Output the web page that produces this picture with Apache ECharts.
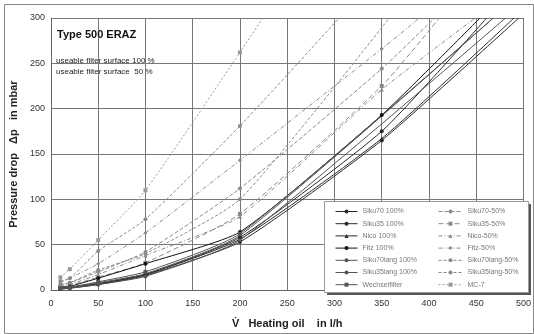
<!DOCTYPE html>
<html><head><meta charset="utf-8">
<script src="https://cdn.jsdelivr.net/npm/echarts@6/dist/echarts.min.js"></script>
<style>html,body{margin:0;padding:0;background:#fff}#c{width:534px;height:334px}</style>
</head><body><div id="c"></div>
<script>
// flow rates (l/h) where points were measured
const flow = [10, 20, 50, 100, 200, 350];
const xTicks = [0, 50, 100, 150, 200, 250, 300, 350, 400, 450, 500];
const yTicks = [0, 50, 100, 150, 200, 250, 300];
// pressure drop (mbar) per series; null = no point
const siku70_100   = [2, 3, 7, 17, 58, 175];
const siku70_50    = [6, 8, 20, 42, 112, 244];
const siku35_100   = [1, 2, 6, 16, 53, 165];
const siku35_50    = [3, 5, 14, 30, 84, 225];
const nico_100     = [2, 3, 7, 17, 56, 167];
const nico_50      = [4, 6, 17, 38, 81, 221];
const fitz_100     = [3, 4, 13, 29, 64, 193];
const fitz_50      = [8, 13, 29, 63, 143, 266];
const siku70l_100  = [2, 3, 8, 18, 60, null];
const siku70l_50   = [10, 13, 43, 78, 181, null];
const siku35l_100  = [1, 2, 6, 15, 55, null];
const siku35l_50   = [5, 8, 22, 40, 100, null];
const wechsel      = [2, 3, 9, 20, 62, null];
const mc7          = [14, 23, 55, 110, 262, null];
// flow where each curve leaves the top of the chart (300 mbar)
const exitFlow = {
  s70_100: 461, s70_50: 406, s35_100: 495, s35_50: 411, nico_100: 490, nico_50: 449,
  fitz_100: 454, fitz_50: 390, s70l_100: 468, s70l_50: 305, s35l_100: 481, s35l_50: 358,
  wechsel: 468, mc7: 224
};
const names = ['Siku70 100%','Siku70-50%','Siku35 100%','Siku35-50%','Nico 100%','Nico-50%',
  'Fitz 100%','Fitz-50%','Siku70lang 100%','Siku70lang-50%','Siku35lang 100%','Siku35lang-50%',
  'Wechselfilter','MC-7'];

const dark = '#2a2a2a', mid = '#555', light = '#8a8a8a';
const defs = [
  [names[0], siku70_100, exitFlow.s70_100, dark, 'solid', 'circle'],
  [names[1], siku70_50, exitFlow.s70_50, light, 'dashed', 'circle'],
  [names[2], siku35_100, exitFlow.s35_100, dark, 'solid', 'circle'],
  [names[3], siku35_50, exitFlow.s35_50, light, [5,3], 'rect'],
  [names[4], nico_100, exitFlow.nico_100, dark, 'solid', 'triangle'],
  [names[5], nico_50, exitFlow.nico_50, light, [4,2,1,2], 'triangle'],
  [names[6], fitz_100, exitFlow.fitz_100, '#111', 'solid', 'circle'],
  [names[7], fitz_50, exitFlow.fitz_50, light, [4,2,1,2], 'diamond'],
  [names[8], siku70l_100, exitFlow.s70l_100, mid, 'solid', 'none'],
  [names[9], siku70l_50, exitFlow.s70l_50, light, [3,2], 'circle'],
  [names[10], siku35l_100, exitFlow.s35l_100, mid, 'solid', 'circle'],
  [names[11], siku35l_50, exitFlow.s35l_50, light, [3,2], 'circle'],
  [names[12], wechsel, exitFlow.wechsel, mid, 'solid', 'rect'],
  [names[13], mc7, exitFlow.mc7, '#9a9a9a', [2,2], 'rect']
];

const series = defs.map(([name, vals, ex, color, type, sym]) => {
  const data = [];
  flow.forEach((f, i) => { if (vals[i] != null) data.push([f, vals[i]]); });
  data.push({ value: [ex, 300], symbol: 'none' });
  return {
    name, type: 'line', data, smooth: 0.18, clip: true,
    symbol: sym, symbolSize: 4,
    lineStyle: { color, width: 1, type },
    itemStyle: { color },
    z: 3
  };
});

const legendCommon = {
  orient: 'vertical', itemHeight: 5, itemGap: 5.2, itemSymbolSize: 4,
  lineStyle: { width: 1 },
  textStyle: { fontSize: 7, color: '#777', fontFamily: 'Liberation Sans' },
  z: 10
};

const chart = echarts.init(document.getElementById('c'));
chart.setOption({
  animation: false,
  backgroundColor: '#fff',
  grid: { left: 46, right: 4, top: 18, bottom: 38 },
  xAxis: {
    type: 'value', min: 0, max: 500, interval: 50,
    name: 'V\u0307   Heating oil    in l/h', nameLocation: 'middle', nameGap: 28,
    nameTextStyle: { fontSize: 11, fontWeight: 'bold', color: '#222', fontFamily: 'Liberation Sans' },
    axisLine: { show: true, lineStyle: { color: '#666' } },
    axisTick: { show: false },
    axisLabel: { fontSize: 9, color: '#333', fontFamily: 'Liberation Sans', margin: 9 },
    splitLine: { lineStyle: { color: '#777', width: 1 } }
  },
  yAxis: {
    type: 'value', min: 0, max: 300, interval: 50,
    name: 'Pressure drop   \u0394p   in mbar', nameLocation: 'middle', nameGap: 31,
    nameTextStyle: { fontSize: 11, fontWeight: 'bold', color: '#222', fontFamily: 'Liberation Sans' },
    axisLine: { show: true, lineStyle: { color: '#666' } },
    axisTick: { show: false },
    axisLabel: { fontSize: 9, color: '#333', fontFamily: 'Liberation Sans', margin: 6 },
    splitLine: { lineStyle: { color: '#777', width: 1 } }
  },
  legend: [
    Object.assign({ left: 330, top: 203, itemWidth: 22, data: [names[0],names[2],names[4],names[6],names[8],names[10],names[12]] }, legendCommon),
    Object.assign({ left: 433, top: 203, itemWidth: 24, data: [names[1],names[3],names[5],names[7],names[9],names[11],names[13]] }, legendCommon)
  ],
  graphic: [
    { type: 'rect', left: 2, top: 2, shape: { width: 529, height: 329 }, style: { fill: 'none', stroke: '#888', lineWidth: 1 }, z: 0, silent: true },
    { type: 'rect', left: 327, top: 204, shape: { width: 204, height: 91 }, style: { fill: '#555' }, z: 5, silent: true },
    { type: 'rect', left: 324, top: 201, shape: { width: 204, height: 91 }, style: { fill: '#fff', stroke: '#999', lineWidth: 1 }, z: 6, silent: true },
    { type: 'text', left: 57, top: 29, style: { text: 'Type 500 ERAZ', font: 'bold 11px "Liberation Sans"', fill: '#111' }, z: 6 },
    { type: 'text', left: 56, top: 57, style: { text: 'useable filter surface 100 %', font: '8px "Liberation Sans"', fill: '#222' }, z: 6 },
    { type: 'text', left: 56, top: 68, style: { text: 'useable filter surface  50 %', font: '8px "Liberation Sans"', fill: '#222' }, z: 6 }
  ],
  series
});
</script></body></html>
